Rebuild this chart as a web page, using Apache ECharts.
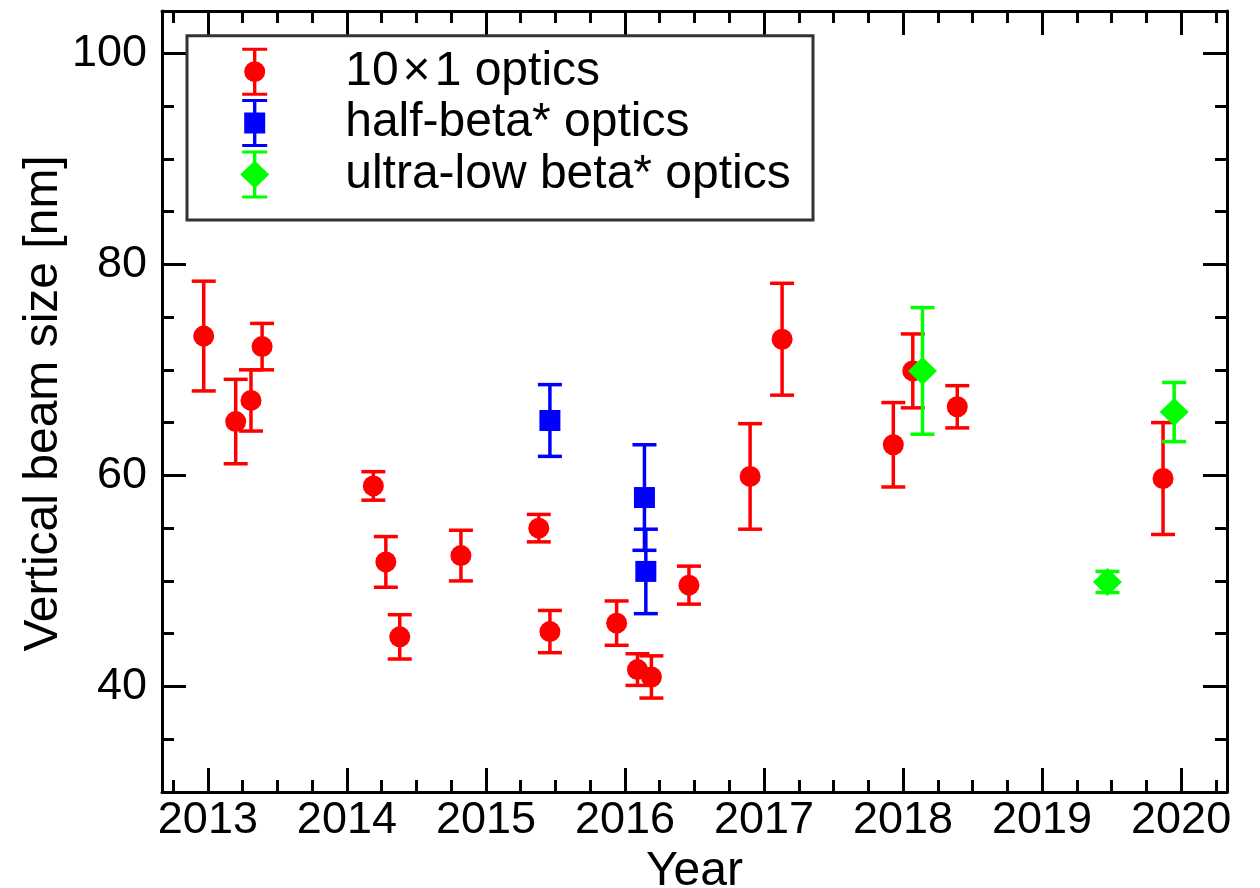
<!DOCTYPE html>
<html>
<head>
<meta charset="utf-8">
<script src="https://cdn.jsdelivr.net/npm/echarts@6/dist/echarts.min.js"></script>
<style>
  html, body { margin: 0; padding: 0; background: #fff; }
  #main { width: 1260px; height: 888px; }
</style>
</head>
<body>
<div id="main"></div>
<script>
// 10x1 optics (year, size, error)
var redYears  = [2012.97, 2013.20, 2013.31, 2013.39, 2014.19, 2014.28, 2014.38, 2014.82, 2015.38, 2015.46,
                 2015.94, 2016.09, 2016.19, 2016.46, 2016.90, 2017.13, 2017.93, 2018.07, 2018.39, 2019.87];
var redSizes  = [73.2, 65.1, 67.1, 72.2, 59.0, 51.8, 44.7, 52.4, 55.0, 45.2,
                 46.0, 41.6, 40.9, 49.6, 59.9, 72.9, 62.9, 69.9, 66.5, 59.7];
var redErrors = [5.2, 4.0, 2.9, 2.2, 1.35, 2.4, 2.1, 2.4, 1.3, 2.0,
                 2.1, 1.5, 2.0, 1.8, 5.0, 5.3, 4.0, 3.5, 2.0, 5.3];
// half-beta* optics
var blueYears  = [2015.46, 2016.14, 2016.15];
var blueSizes  = [65.2, 57.9, 50.9];
var blueErrors = [3.4, 5.0, 4.0];
// ultra-low beta* optics
var greenYears  = [2018.14, 2019.47, 2019.95];
var greenSizes  = [69.9, 49.9, 66.0];
var greenErrors = [6.0, 1.0, 2.8];

var seriesNames = ['10\u200a\u00d7\u200a1 optics', 'half-beta* optics', 'ultra-low beta* optics'];
var xTitle = 'Year';
var yTitle = 'Vertical beam size [nm]';

// axis ticks
var xMajorTicks = [2013, 2014, 2015, 2016, 2017, 2018, 2019, 2020];
var xMinorTicks = [2012.75, 2013.25, 2013.5, 2013.75, 2014.25, 2014.5, 2014.75, 2015.25, 2015.5, 2015.75,
                   2016.25, 2016.5, 2016.75, 2017.25, 2017.5, 2017.75, 2018.25, 2018.5, 2018.75,
                   2019.25, 2019.5, 2019.75, 2020.25];
var yMajorTicks = [40, 60, 80, 100];
var yMinorTicks = [35, 45, 50, 55, 65, 70, 75, 85, 90, 95];

var FONT = 'Liberation Sans, Arial, Helvetica, sans-serif';

function points(xs, ys) {
	var out = [];
	for (var i = 0; i < xs.length; i++) out.push([xs[i], ys[i]]);
	return out;
}
function bars(xs, ys, es) {
	var out = [];
	for (var i = 0; i < xs.length; i++) out.push([xs[i], ys[i] - es[i], ys[i] + es[i]]);
	return out;
}

// error bar with caps
function errorBarItem(color) {
	return function (params, api) {
		var lo = api.coord([api.value(0), api.value(1)]);
		var hi = api.coord([api.value(0), api.value(2)]);
		var half = 12;
		var st = { stroke: color, lineWidth: 3.5 };
		return {
			type: 'group',
			children: [
				{ type: 'line', shape: { x1: lo[0], y1: lo[1], x2: hi[0], y2: hi[1] }, style: st },
				{ type: 'line', shape: { x1: lo[0] - half, y1: lo[1], x2: lo[0] + half, y2: lo[1] }, style: st },
				{ type: 'line', shape: { x1: hi[0] - half, y1: hi[1], x2: hi[0] + half, y2: hi[1] }, style: st }
			]
		};
	};
}

// legend icons: marker with error bar
var iconRed   = 'path://M0 0H25V3H0Z M0 45H25V48H0Z M10.8 0H14.2V48H10.8Z M23 24A10.5 10.5 0 1 1 2 24A10.5 10.5 0 1 1 23 24Z';
var iconBlue  = 'path://M0 0H25V3H0Z M0 45H25V48H0Z M10.8 0H14.2V48H10.8Z M2 13.5H23V34.5H2Z';
var iconGreen = 'path://M2 0H27V3H2Z M2 45H27V48H2Z M12.8 0H16.2V48H12.8Z M14.5 10L29 24L14.5 38L0 24Z';

var X_MIN = 2012.67, X_MAX = 2020.33, Y_MIN = 30, Y_MAX = 104;

function xAx(pos, ticks, len, showLine, showLabel, name) {
	return {
		type: 'value', position: pos, min: X_MIN, max: X_MAX,
		axisLine: { show: showLine, lineStyle: { color: '#000', width: 3 } },
		axisTick: { show: true, inside: true, length: len, customValues: ticks, lineStyle: { color: '#000', width: 3 } },
		axisLabel: { show: showLabel, customValues: ticks, margin: 6, fontSize: 45, color: '#000', fontFamily: FONT,
			formatter: function (v) { return String(v); } },
		splitLine: { show: false },
		name: name || '', nameLocation: 'middle', nameGap: 47,
		nameTextStyle: { fontSize: 48, color: '#000', fontFamily: FONT }
	};
}
function yAx(pos, ticks, len, showLine, showLabel) {
	return {
		type: 'value', position: pos, min: Y_MIN, max: Y_MAX,
		axisLine: { show: showLine, lineStyle: { color: '#000', width: 3 } },
		axisTick: { show: true, inside: true, length: len, customValues: ticks, lineStyle: { color: '#000', width: 3 } },
		axisLabel: { show: showLabel, customValues: ticks, margin: 15, fontSize: 45, color: '#000', fontFamily: FONT },
		splitLine: { show: false }
	};
}

var myChart = echarts.init(document.getElementById('main'), null, { renderer: 'canvas' });

var option = {
	animation: false,
	backgroundColor: '#fff',
	grid: { left: 162, top: 11, width: 1065, height: 781, containLabel: false, outerBoundsMode: 'none' },
	xAxis: [
		xAx('bottom', xMajorTicks, 24, true, true, xTitle),
		xAx('bottom', xMinorTicks, 12, false, false),
		xAx('top', xMajorTicks, 24, true, false),
		xAx('top', xMinorTicks, 12, false, false)
	],
	yAxis: [
		yAx('left', yMajorTicks, 24, true, true),
		yAx('left', yMinorTicks, 12, false, false),
		yAx('right', yMajorTicks, 24, true, false),
		yAx('right', yMinorTicks, 12, false, false)
	],
	legend: {
		orient: 'vertical',
		left: 240.2, top: 47.7,
		padding: 0,
		itemWidth: 171, itemHeight: 48, itemGap: 3.4,
		selectedMode: false,
		textStyle: { fontSize: 48, color: '#000', fontFamily: FONT },
		data: [
			{ name: seriesNames[0], icon: iconRed },
			{ name: seriesNames[1], icon: iconBlue },
			{ name: seriesNames[2], icon: iconGreen }
		]
	},
	graphic: [
		{
			type: 'rect', z: 1,
			shape: { x: 187, y: 35.8, width: 626, height: 184.2 },
			style: { fill: 'none', stroke: '#333', lineWidth: 3 }
		},
		{
			// y axis title, rotated to read upwards
			type: 'text', x: 43.5, y: 403.4, rotation: Math.PI / 2,
			style: { text: yTitle, fill: '#000', font: '48px ' + FONT, textAlign: 'center', textVerticalAlign: 'middle' }
		}
	],
	series: [
		{ type: 'custom', name: 'err-red', renderItem: errorBarItem('#ff0000'), data: bars(redYears, redSizes, redErrors), z: 2 },
		{ type: 'custom', name: 'err-blue', renderItem: errorBarItem('#0000ff'), data: bars(blueYears, blueSizes, blueErrors), z: 2 },
		{ type: 'custom', name: 'err-green', renderItem: errorBarItem('#00ff00'), data: bars(greenYears, greenSizes, greenErrors), z: 2 },
		{ type: 'scatter', name: seriesNames[0], symbol: 'circle', symbolSize: 21,
		  itemStyle: { color: '#ff0000', opacity: 1 }, data: points(redYears, redSizes), z: 3 },
		{ type: 'scatter', name: seriesNames[1], symbol: 'rect', symbolSize: 21,
		  itemStyle: { color: '#0000ff', opacity: 1 }, data: points(blueYears, blueSizes), z: 3 },
		{ type: 'scatter', name: seriesNames[2], symbol: 'diamond', symbolSize: [29, 28],
		  itemStyle: { color: '#00ff00', opacity: 1 }, data: points(greenYears, greenSizes), z: 3 }
	]
};
myChart.setOption(option);
</script>
</body>
</html>
